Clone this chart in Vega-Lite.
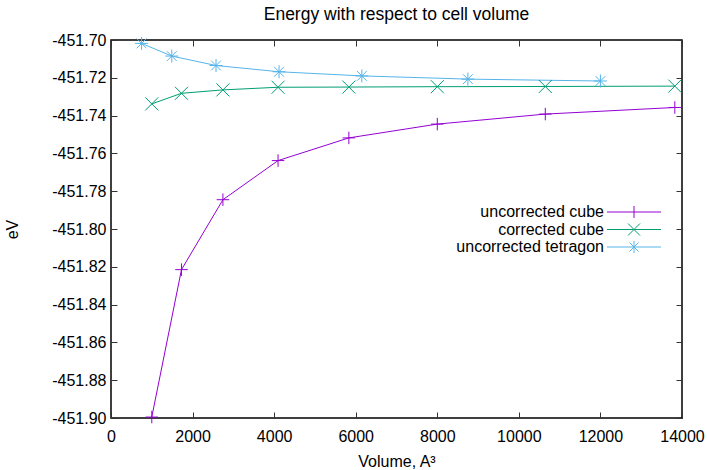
{
  "$schema": "https://vega.github.io/schema/vega-lite/v6.json",
  "width": 571,
  "height": 378,
  "autosize": "none",
  "padding": {"left": 111, "top": 40, "right": 25, "bottom": 52},
  "background": "white",
  "title": {"text": "Energy with respect to cell volume", "fontSize": 17.5, "font": "Liberation Sans", "fontWeight": "normal", "color": "black", "anchor": "middle", "offset": 9},
  "config": {
    "view": {"stroke": "black", "strokeWidth": 1.5},
    "axis": {"labelFont": "Liberation Sans", "labelFontSize": 16, "labelColor": "black", "titleFont": "Liberation Sans", "titleFontSize": 16, "titleFontWeight": "normal", "titleColor": "black", "tickColor": "#333", "tickSize": -6, "grid": false, "domain": false, "labelFlush": false, "labelOverlap": false}
  },
  "datasets": {
    "energy": [
      {"series": "uncorrected cube", "volume": 1000, "eV": -451.8995},
      {"series": "uncorrected cube", "volume": 1728, "eV": -451.8215},
      {"series": "uncorrected cube", "volume": 2744, "eV": -451.7845},
      {"series": "uncorrected cube", "volume": 4096, "eV": -451.7638},
      {"series": "uncorrected cube", "volume": 5832, "eV": -451.7518},
      {"series": "uncorrected cube", "volume": 8000, "eV": -451.7445},
      {"series": "uncorrected cube", "volume": 10648, "eV": -451.7392},
      {"series": "uncorrected cube", "volume": 13824, "eV": -451.7357},
      {"series": "corrected cube", "volume": 1000, "eV": -451.7338},
      {"series": "corrected cube", "volume": 1728, "eV": -451.7282},
      {"series": "corrected cube", "volume": 2744, "eV": -451.7264},
      {"series": "corrected cube", "volume": 4096, "eV": -451.7250},
      {"series": "corrected cube", "volume": 5832, "eV": -451.7249},
      {"series": "corrected cube", "volume": 8000, "eV": -451.7247},
      {"series": "corrected cube", "volume": 10648, "eV": -451.7246},
      {"series": "corrected cube", "volume": 13824, "eV": -451.7244},
      {"series": "uncorrected tetragon", "volume": 750, "eV": -451.7018},
      {"series": "uncorrected tetragon", "volume": 1490, "eV": -451.7085},
      {"series": "uncorrected tetragon", "volume": 2575, "eV": -451.7135},
      {"series": "uncorrected tetragon", "volume": 4120, "eV": -451.7168},
      {"series": "uncorrected tetragon", "volume": 6150, "eV": -451.7190},
      {"series": "uncorrected tetragon", "volume": 8750, "eV": -451.7207},
      {"series": "uncorrected tetragon", "volume": 12000, "eV": -451.7217}
    ]
  },
  "data": {"name": "energy"},
  "layer": [
    {
      "mark": {"type": "line", "strokeWidth": 1, "clip": true},
      "encoding": {
        "x": {"field": "volume", "type": "quantitative", "scale": {"domain": [0, 14000], "nice": false, "zero": false}, "axis": {"orient": "bottom", "values": [0, 2000, 4000, 6000, 8000, 10000, 12000, 14000], "format": "d", "title": "Volume, A³", "labelPadding": 16, "titlePadding": 9}},
        "y": {"field": "eV", "type": "quantitative", "scale": {"domain": [-451.9, -451.7], "nice": false, "zero": false}, "axis": {"orient": "left", "values": [-451.9, -451.88, -451.86, -451.84, -451.82, -451.8, -451.78, -451.76, -451.74, -451.72, -451.7], "format": ".2f", "labelExpr": "replace(datum.label, '−', '-')", "title": "eV", "labelPadding": 11, "titlePadding": 31}},
        "color": {"field": "series", "type": "nominal", "scale": {"domain": ["uncorrected cube", "corrected cube", "uncorrected tetragon"], "range": ["#9400d3", "#009e73", "#56b4e9"]}, "legend": {"orient": "none", "legendX": 515, "legendY": 164, "title": null, "symbolSize": 144, "symbolStrokeWidth": 1, "labelAlign": "right", "labelOffset": -38, "labelFontSize": 16, "labelFont": "Liberation Sans", "labelColor": "black", "rowPadding": 1.5, "padding": 0, "encode": {"symbols": {"update": {"shape": {"signal": "datum.value === 'uncorrected cube' ? 'M-4.5,0L4.5,0M0,-1L0,1' : datum.value === 'corrected cube' ? 'M-4.5,0L4.5,0M-1,-1L1,1M-1,1L1,-1' : 'M-4.5,0L4.5,0M0,-1L0,1M-0.75,-0.75L0.75,0.75M-0.75,0.75L0.75,-0.75'"}, "fill": {"value": "transparent"}}}}}},
        "detail": {"field": "series"}
      }
    },
    {
      "transform": [{"filter": "datum.series === 'uncorrected cube'"}],
      "mark": {"type": "point", "filled": false, "size": 156, "strokeWidth": 1, "opacity": 1, "clip": false, "color": "#9400d3", "shape": "M-1,0L1,0M0,-1L0,1"},
      "encoding": {
        "x": {"field": "volume", "type": "quantitative", "axis": null},
        "y": {"field": "eV", "type": "quantitative", "axis": null}
      }
    },
    {
      "transform": [{"filter": "datum.series === 'corrected cube'"}],
      "mark": {"type": "point", "filled": false, "size": 169, "strokeWidth": 1, "opacity": 1, "clip": false, "color": "#009e73", "shape": "M-1,-1L1,1M-1,1L1,-1"},
      "encoding": {
        "x": {"field": "volume", "type": "quantitative", "axis": null},
        "y": {"field": "eV", "type": "quantitative", "axis": null}
      }
    },
    {
      "transform": [{"filter": "datum.series === 'uncorrected tetragon'"}],
      "mark": {"type": "point", "filled": false, "size": 169, "strokeWidth": 1, "opacity": 1, "clip": false, "color": "#56b4e9", "shape": "M-1,0L1,0M0,-1L0,1M-0.75,-0.75L0.75,0.75M-0.75,0.75L0.75,-0.75"},
      "encoding": {
        "x": {"field": "volume", "type": "quantitative", "axis": null},
        "y": {"field": "eV", "type": "quantitative", "axis": null}
      }
    },
    {
      "mark": {"type": "point", "opacity": 0},
      "encoding": {
        "x": {"field": "volume", "type": "quantitative", "axis": {"orient": "top", "values": [0, 2000, 4000, 6000, 8000, 10000, 12000, 14000], "labels": false, "title": null}},
        "y": {"field": "eV", "type": "quantitative", "axis": {"orient": "right", "values": [-451.9, -451.88, -451.86, -451.84, -451.82, -451.8, -451.78, -451.76, -451.74, -451.72, -451.7], "labels": false, "title": null}}
      }
    }
  ],
  "resolve": {"axis": {"x": "independent", "y": "independent"}}
}
